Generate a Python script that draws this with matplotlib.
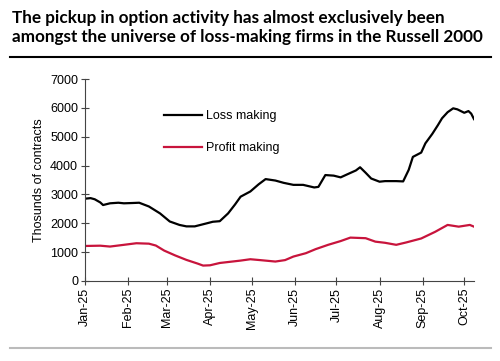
import matplotlib.pyplot as plt
import matplotlib.dates as mdates
from matplotlib.lines import Line2D
import pandas as pd

plt.rcParams['font.family'] = ['Liberation Sans', 'DejaVu Sans']
plt.rcParams['font.size'] = 9

# Loss-making firms (thousands of contracts)
loss_dates = ['2025-01-01', '2025-01-05', '2025-01-08', '2025-01-12', '2025-01-14',
              '2025-01-19', '2025-01-25', '2025-01-29', '2025-02-04', '2025-02-09',
              '2025-02-16', '2025-02-24', '2025-03-03', '2025-03-10', '2025-03-15',
              '2025-03-21', '2025-03-30', '2025-04-03', '2025-04-08', '2025-04-14',
              '2025-04-19', '2025-04-23', '2025-04-30', '2025-05-06', '2025-05-11',
              '2025-05-18', '2025-05-24', '2025-05-31', '2025-06-07', '2025-06-15',
              '2025-06-18', '2025-06-23', '2025-06-29', '2025-07-04', '2025-07-09',
              '2025-07-15', '2025-07-18', '2025-07-22', '2025-07-26', '2025-08-01',
              '2025-08-05', '2025-08-13', '2025-08-18', '2025-08-22', '2025-08-25',
              '2025-08-31', '2025-09-03', '2025-09-08', '2025-09-12', '2025-09-15',
              '2025-09-19', '2025-09-23', '2025-09-26', '2025-10-01', '2025-10-04',
              '2025-10-06', '2025-10-08']
loss_vals = [2850, 2870, 2830, 2720, 2630,
             2690, 2710, 2690, 2700, 2710,
             2580, 2340, 2060, 1940, 1890,
             1890, 2000, 2050, 2070, 2340,
             2650, 2920, 3100, 3350, 3530,
             3480, 3400, 3330, 3330, 3240,
             3260, 3670, 3650, 3590, 3700,
             3830, 3940, 3750, 3550, 3440,
             3460, 3460, 3450, 3850, 4300,
             4450, 4770, 5100, 5400, 5640,
             5850, 5985, 5950, 5830, 5890,
             5800, 5610]

# Profit-making firms (thousands of contracts)
profit_dates = ['2025-01-01', '2025-01-12', '2025-01-19', '2025-01-29', '2025-02-07',
                '2025-02-16', '2025-02-21', '2025-02-27', '2025-03-07', '2025-03-15',
                '2025-03-23', '2025-03-27', '2025-04-01', '2025-04-08', '2025-04-23',
                '2025-04-30', '2025-05-07', '2025-05-18', '2025-05-25', '2025-05-31',
                '2025-06-09', '2025-06-16', '2025-06-25', '2025-07-04', '2025-07-11',
                '2025-07-22', '2025-07-29', '2025-08-05', '2025-08-13', '2025-08-20',
                '2025-08-31', '2025-09-10', '2025-09-19', '2025-09-27', '2025-10-05',
                '2025-10-08']
profit_vals = [1210, 1220, 1190, 1250, 1305,
               1290, 1225, 1050, 880, 727,
               600, 530, 540, 620, 703,
               750, 720, 670, 720, 843,
               960, 1100, 1250, 1380, 1500,
               1480, 1360, 1320, 1250, 1330,
               1470, 1700, 1940, 1880, 1940,
               1880]

title = ("The pickup in option activity has almost exclusively been\n"
         "amongst the universe of loss-making firms in the Russell 2000")

fig = plt.figure(figsize=(5, 3.61), dpi=100)
ax = fig.add_axes([0.17, 0.222, 0.778, 0.559])

ax.plot(pd.to_datetime(loss_dates), loss_vals, color='black', lw=1.6, label='Loss making')
ax.plot(pd.to_datetime(profit_dates), profit_vals, color='#c8143c', lw=1.6, label='Profit making')

ax.set_ylim(0, 7000)
ax.set_yticks(range(0, 7001, 1000))
ax.set_xlim(pd.Timestamp('2025-01-01'), pd.Timestamp('2025-10-08'))
ax.xaxis.set_major_locator(mdates.MonthLocator())
ax.xaxis.set_major_formatter(mdates.DateFormatter('%b-%y'))
plt.setp(ax.get_xticklabels(), rotation=90)
ax.tick_params(direction='inout', length=6, width=0.8, color='#444444', labelsize=9, pad=2)
for s in ['top', 'right']:
    ax.spines[s].set_visible(False)
for s in ['left', 'bottom']:
    ax.spines[s].set_color('#444444')
ax.set_ylabel('Thosunds of contracts', fontsize=9)

ax.legend(loc='upper left', bbox_to_anchor=(0.175, 0.90), frameon=False,
          handlelength=3.0, labelspacing=1.6, handletextpad=0.3, fontsize=9)

fig.text(0.024, 0.972, title, ha='left', va='top', fontsize=12.3,
         fontweight='bold', family=['Lato', 'DejaVu Sans'], linespacing=1.2)
fig.add_artist(Line2D([0.02, 0.982], [0.842, 0.842], color='black', lw=1.5))
fig.add_artist(Line2D([0.02, 0.982], [0.036, 0.036], color='#bbbbbb', lw=1.5))

fig.savefig('out.png', dpi=100)
